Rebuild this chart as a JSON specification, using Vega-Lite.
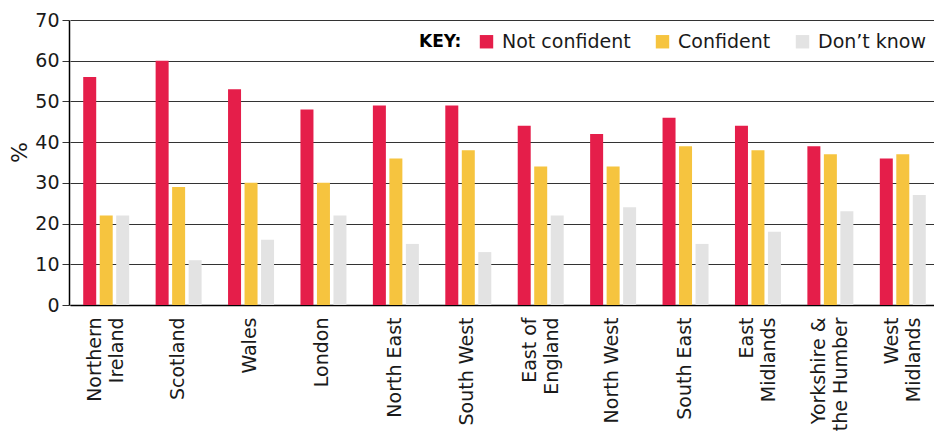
{
  "$schema": "https://vega.github.io/schema/vega-lite/v6.json",
  "autosize": {"type": "none"},
  "padding": {"left": 69, "top": 20, "right": 2, "bottom": 127},
  "width": 863,
  "height": 285,
  "background": "white",
  "config": {
    "view": {"stroke": null},
    "font": "DejaVu Sans"
  },
  "data": {
    "values": [
      {"region": "Northern\nIreland", "series": "Not confident", "value": 56},
      {"region": "Northern\nIreland", "series": "Confident", "value": 22},
      {"region": "Northern\nIreland", "series": "Don’t know", "value": 22},
      {"region": "Scotland", "series": "Not confident", "value": 60},
      {"region": "Scotland", "series": "Confident", "value": 29},
      {"region": "Scotland", "series": "Don’t know", "value": 11},
      {"region": "Wales", "series": "Not confident", "value": 53},
      {"region": "Wales", "series": "Confident", "value": 30},
      {"region": "Wales", "series": "Don’t know", "value": 16},
      {"region": "London", "series": "Not confident", "value": 48},
      {"region": "London", "series": "Confident", "value": 30},
      {"region": "London", "series": "Don’t know", "value": 22},
      {"region": "North East", "series": "Not confident", "value": 49},
      {"region": "North East", "series": "Confident", "value": 36},
      {"region": "North East", "series": "Don’t know", "value": 15},
      {"region": "South West", "series": "Not confident", "value": 49},
      {"region": "South West", "series": "Confident", "value": 38},
      {"region": "South West", "series": "Don’t know", "value": 13},
      {"region": "East of\nEngland", "series": "Not confident", "value": 44},
      {"region": "East of\nEngland", "series": "Confident", "value": 34},
      {"region": "East of\nEngland", "series": "Don’t know", "value": 22},
      {"region": "North West", "series": "Not confident", "value": 42},
      {"region": "North West", "series": "Confident", "value": 34},
      {"region": "North West", "series": "Don’t know", "value": 24},
      {"region": "South East", "series": "Not confident", "value": 46},
      {"region": "South East", "series": "Confident", "value": 39},
      {"region": "South East", "series": "Don’t know", "value": 15},
      {"region": "East\nMidlands", "series": "Not confident", "value": 44},
      {"region": "East\nMidlands", "series": "Confident", "value": 38},
      {"region": "East\nMidlands", "series": "Don’t know", "value": 18},
      {"region": "Yorkshire &\nthe Humber", "series": "Not confident", "value": 39},
      {"region": "Yorkshire &\nthe Humber", "series": "Confident", "value": 37},
      {"region": "Yorkshire &\nthe Humber", "series": "Don’t know", "value": 23},
      {"region": "West\nMidlands", "series": "Not confident", "value": 36},
      {"region": "West\nMidlands", "series": "Confident", "value": 37},
      {"region": "West\nMidlands", "series": "Don’t know", "value": 27}
    ]
  },
  "mark": {"type": "bar"},
  "encoding": {
    "x": {
      "field": "region",
      "type": "nominal",
      "sort": null,
      "scale": {"range": [1, 870], "paddingInner": 0.365, "paddingOuter": 0.1825},
      "axis": {
        "title": null,
        "labelAngle": -90,
        "labelAlign": "right",
        "labelBaseline": "middle",
        "labelFontSize": 19,
        "labelColor": "#1a1a1a",
        "labelPadding": 12,
        "labelLineHeight": 22,
        "labelOffset": {"condition": {"test": "indexof(datum.label, '\\n') >= 0", "value": -11}, "value": -1},
        "labelExpr": "split(datum.label, '\\n')",
        "ticks": false,
        "domainColor": "#000000",
        "domainWidth": 1.5
      }
    },
    "xOffset": {
      "field": "series",
      "type": "nominal",
      "sort": ["Not confident", "Confident", "Don’t know"],
      "scale": {"paddingInner": 0.212, "paddingOuter": 0}
    },
    "y": {
      "field": "value",
      "type": "quantitative",
      "scale": {"domain": [0, 70]},
      "axis": {
        "title": "%",
        "titleFontSize": 22,
        "titleFontWeight": "normal",
        "titleColor": "#1a1a1a",
        "titlePadding": 3,
        "titleY": 132,
        "values": [0, 10, 20, 30, 40, 50, 60, 70],
        "labelFontSize": 19,
        "labelColor": "#1a1a1a",
        "tickSize": 7,
        "tickColor": "#333333",
        "labelPadding": 3,
        "gridColor": "#333333",
        "gridWidth": 1,
        "domainColor": "#000000",
        "domainWidth": 1.5
      }
    },
    "color": {
      "field": "series",
      "type": "nominal",
      "sort": ["Not confident", "Confident", "Don’t know"],
      "scale": {
        "domain": ["Not confident", "Confident", "Don’t know"],
        "range": ["#E51E4A", "#F6C43F", "#E3E3E3"]
      },
      "legend": {
        "title": "KEY:",
        "orient": "none",
        "legendX": 350,
        "legendY": 12,
        "direction": "horizontal",
        "titleOrient": "left",
        "titleFontSize": 17,
        "titleFontWeight": "bold",
        "titleColor": "#000000",
        "titlePadding": 15,
        "labelFontSize": 19,
        "labelOffset": 6,
        "labelColor": "#1a1a1a",
        "symbolType": "square",
        "symbolSize": 180,
        "symbolStrokeWidth": 0,
        "columnPadding": 22,
        "padding": 0
      }
    }
  }
}
